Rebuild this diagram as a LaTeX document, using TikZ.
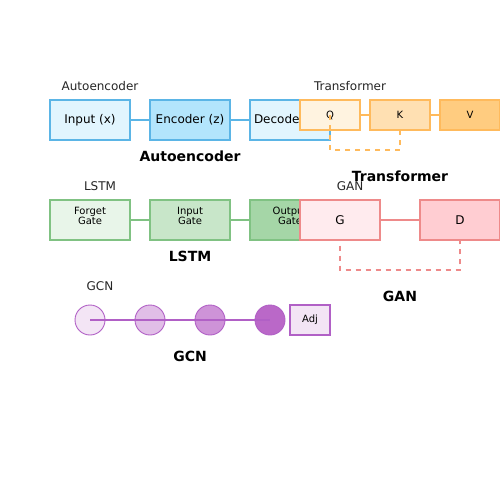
\documentclass[tikz,border=0pt]{standalone}
\usepackage{fontspec}
\setmainfont{DejaVu Sans}
\begin{document}
\begin{tikzpicture}[x=1pt,y=-1pt,
  lbl/.style={font=\fontsize{12}{14}\selectfont,text=black!85},
  ttl/.style={font=\fontsize{14}{16}\selectfont\bfseries},
  ebox/.style={draw=aeS,line width=1.2pt,minimum width=80pt,minimum height=40pt,inner sep=0pt,font=\fontsize{12}{14}\selectfont},
  tbox/.style={draw=trS,line width=1.2pt,minimum width=60pt,minimum height=30pt,inner sep=0pt,font=\fontsize{10}{12}\selectfont},
  lbox/.style={draw=lsS,line width=1.2pt,minimum width=80pt,minimum height=40pt,inner sep=0pt},
  gbox/.style={draw=gaS,line width=1.2pt,minimum width=80pt,minimum height=40pt,inner sep=0pt,font=\fontsize{12}{14}\selectfont},
  gcirc/.style={circle,draw=gcS,line width=0.9pt,minimum size=30pt,inner sep=0pt},
  small/.style={font=\fontsize{10}{10}\selectfont,align=center},
]
\definecolor{aeS}{HTML}{5BB5E6}
\definecolor{trS}{HTML}{FFBA5C}
\definecolor{lsS}{HTML}{80C283}
\definecolor{gaS}{HTML}{EE8A8A}
\definecolor{gcS}{HTML}{B160C6}
\useasboundingbox (0,0) rectangle (500,500);
\fill[white] (0,0) rectangle (500,500);

% Autoencoder
\node[lbl] (aelab) at (100,86) {Autoencoder};
\node[ebox,fill={rgb,255:red,225;green,245;blue,254}] (ae1) at (90,120) {Input (x)};
\node[ebox,fill={rgb,255:red,179;green,229;blue,252}] (ae2) at (190,120) {Encoder (z)};
\node[ebox,fill={rgb,255:red,225;green,245;blue,254},text width=80pt,align=left] (ae3) at (290,120) {\hspace*{4pt}Decoder (x')};
\draw[aeS,line width=1.2pt] (ae1) -- (ae2);
\draw[aeS,line width=1.2pt] (ae2) -- (ae3);
\node[ttl] (aettl) at (190,156) {Autoencoder};

% Transformer
\node[lbl] (trlab) at (350,86) {Transformer};
\node[tbox,fill={rgb,255:red,255;green,243;blue,224}] (q) at (330,115) {Q};
\node[tbox,fill={rgb,255:red,255;green,224;blue,178}] (k) at (400,115) {K};
\node[tbox,fill={rgb,255:red,255;green,204;blue,128}] (v) at (470,115) {V};
\draw[trS,line width=1.2pt] (q) -- (k);
\draw[trS,line width=1.2pt] (k) -- (v);
\draw[trS,line width=1.2pt,dash pattern=on 5pt off 5pt] (q.center) -- ++(0,35) -| (k.south);
\node[ttl] (trttl) at (400,176) {Transformer};

% LSTM
\node[lbl] (lslab) at (100,186) {LSTM};
\node[lbox,fill={rgb,255:red,232;green,245;blue,233}] (l1) at (90,220) {};
\node[lbox,fill={rgb,255:red,200;green,230;blue,201}] (l2) at (190,220) {};
\node[lbox,fill={rgb,255:red,165;green,214;blue,167}] (l3) at (290,220) {};
\node[small] (l1t) at (90,216) {Forget\\Gate};
\node[small] (l2t) at (190,216) {Input\\Gate};
\node[small] (l3t) at (290,216) {Output\\Gate};
\draw[lsS,line width=1.2pt] (l1) -- (l2);
\draw[lsS,line width=1.2pt] (l2) -- (l3);
\node[ttl] (lsttl) at (190,256) {LSTM};

% GAN
\node[lbl] (galab) at (350,186) {GAN};
\node[gbox,fill={rgb,255:red,255;green,235;blue,238}] (g) at (340,220) {G};
\node[gbox,fill={rgb,255:red,255;green,205;blue,210}] (d) at (460,220) {D};
\draw[gaS,line width=1.2pt] (g) -- (d);
\draw[gaS,line width=1.2pt,dash pattern=on 5pt off 5pt,dash phase=0pt] ([yshift=-5pt]g.south) -- (340,270) -| (d.south);
\node[ttl] (gattl) at (400,296) {GAN};

% GCN
\node[lbl] (gclab) at (100,286) {GCN};
\node[gcirc,fill={rgb,255:red,243;green,229;blue,245}] (c1) at (90,320) {};
\node[gcirc,fill={rgb,255:red,225;green,190;blue,231}] (c2) at (150,320) {};
\node[gcirc,fill={rgb,255:red,206;green,147;blue,216}] (c3) at (210,320) {};
\node[gcirc,fill={rgb,255:red,186;green,104;blue,200}] (c4) at (270,320) {};
\draw[gcS,line width=1.2pt] (c1.center) -- (c4.center);
\node[draw=gcS,line width=1.2pt,fill={rgb,255:red,243;green,229;blue,245},minimum width=40pt,minimum height=30pt,inner sep=0pt,font=\fontsize{10}{12}\selectfont] (adj) at (310,320) {Adj};
\node[ttl] (gcttl) at (190,356) {GCN};
\end{tikzpicture}
\end{document}
